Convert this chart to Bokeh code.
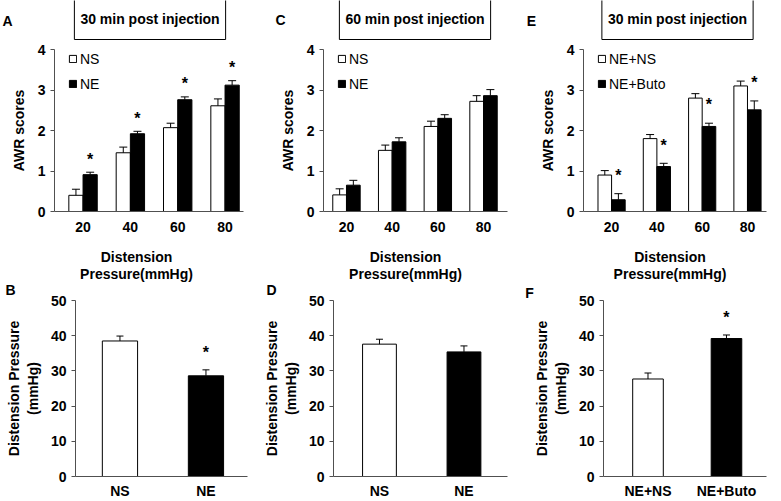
from bokeh.plotting import figure
from bokeh.models import (ColumnDataSource, Label, Legend, LegendItem, Whisker,
                          TeeHead, FixedTicker, Range1d)
from bokeh.layouts import column, row
from bokeh.embed import file_html
from bokeh.resources import INLINE
from bokeh.core.properties import value

FONT = "Liberation Sans"

# ---------------- data ----------------
pressures = ["20", "40", "60", "80"]

# Panel A: 30 min post injection
a_ns = [0.40, 1.45, 2.07, 2.61]
a_ns_sem = [0.15, 0.14, 0.11, 0.17]
a_ne = [0.91, 1.92, 2.76, 3.12]
a_ne_sem = [0.06, 0.06, 0.07, 0.11]
a_sig = [True, True, True, True]

# Panel C: 60 min post injection
c_ns = [0.41, 1.51, 2.10, 2.72]
c_ns_sem = [0.15, 0.13, 0.13, 0.14]
c_ne = [0.65, 1.72, 2.30, 2.86]
c_ne_sem = [0.12, 0.10, 0.09, 0.15]
c_sig = [False, False, False, False]

# Panel E: 30 min post injection
e_nens = [0.90, 1.80, 2.80, 3.10]
e_nens_sem = [0.11, 0.10, 0.11, 0.12]
e_buto = [0.29, 1.11, 2.10, 2.51]
e_buto_sem = [0.15, 0.08, 0.08, 0.22]
e_sig = [True, True, True, True]

# Panels B, D, F: distension pressure threshold
bd_groups = ["NS", "NE"]
b_vals = [38.5, 28.6]
b_sem = [1.4, 1.7]
b_sig = [False, True]
d_vals = [37.6, 35.4]
d_sem = [1.4, 1.7]
d_sig = [False, False]
f_groups = ["NE+NS", "NE+Buto"]
f_vals = [27.7, 39.2]
f_sem = [1.7, 1.0]
f_sig = [False, True]

bar_fills = ["white", "black"]

TOP_H = 282
BOT_H = 218


def panel_figure(W, H, box, xd, yd):
    """Figure whose frame fills the canvas; axes sit at fixed data locations."""
    l, r, t, b = box
    kx = (xd[1] - xd[0]) / (r - l)
    ky = (yd[1] - yd[0]) / (b - t)
    p = figure(width=W, height=H,
               x_range=Range1d(xd[0] - l * kx, xd[1] + (W - r) * kx),
               y_range=Range1d(yd[0] - (H - b) * ky, yd[1] + t * ky),
               output_backend="svg", toolbar_location=None,
               min_border=0, min_border_left=0, min_border_right=0,
               min_border_top=0, min_border_bottom=0)
    p.outline_line_color = None
    p.xgrid.visible = False
    p.ygrid.visible = False
    p.background_fill_color = "white"
    p.border_fill_color = "white"
    p.xaxis.fixed_location = yd[0]
    p.xaxis.bounds = xd
    p.yaxis.fixed_location = xd[0]
    p.yaxis.bounds = yd
    return p


def style(p, xlabels, x_ticks, y_ticks, x_standoff):
    for ax in (p.xaxis[0], p.yaxis[0]):
        ax.axis_line_color = "#505050"
        ax.axis_line_width = 1
        ax.major_label_text_font = FONT
        ax.major_label_text_font_style = "bold"
        ax.major_label_text_font_size = "14px"
        ax.major_label_text_color = "black"
        ax.minor_tick_line_color = None
        ax.axis_label_text_font = FONT
        ax.axis_label_text_font_style = "bold"
        ax.axis_label_text_font_size = "14px"
        ax.axis_label_text_color = "black"
    p.xaxis.ticker = FixedTicker(ticks=x_ticks)
    p.xaxis.major_label_overrides = {t: l for t, l in zip(x_ticks, xlabels)}
    p.xaxis.major_tick_line_color = None
    p.xaxis.major_tick_in = 0
    p.xaxis.major_tick_out = 0
    p.xaxis.major_label_standoff = x_standoff
    p.yaxis.ticker = FixedTicker(ticks=y_ticks)
    p.yaxis.major_tick_in = 0
    p.yaxis.major_tick_out = 4
    p.yaxis.major_tick_line_color = "#505050"
    p.yaxis.major_label_standoff = 5


def add_text(p, H, x, y_top, text, **kw):
    """Text placed in pixels from the figure's top-left corner."""
    p.add_layout(Label(x=x, y=H - y_top, x_units="screen", y_units="screen",
                       text=text, text_font=FONT, text_font_size="14px",
                       text_font_style="bold", text_color="black",
                       text_align="center", text_baseline="middle", **kw))


def top_panel(W, box, xd, white, white_sem, black, black_sem, sig, star_off,
              names, letter, letter_xy, title_text, title_x, xtitle_x):
    p = panel_figure(W, TOP_H, box, xd, (0, 4))
    idx = [i + 1 for i in range(len(pressures))]
    off = 0.15
    renderers = []
    for vals, sems, fill, sign in ((white, white_sem, bar_fills[0], -1),
                                   (black, black_sem, bar_fills[1], 1)):
        xs = [i + sign * off for i in idx]
        src = ColumnDataSource(dict(x=xs, top=vals,
                                    upper=[v + s for v, s in zip(vals, sems)]))
        r = p.vbar(x="x", top="top", bottom=0, width=0.30, source=src,
                   fill_color=fill, line_color="black", line_width=1)
        renderers.append(r)
        p.add_layout(Whisker(base="x", lower="top", upper="upper", source=src,
                             dimension="height", line_color="black", line_width=1,
                             upper_head=TeeHead(size=8, line_color="black", line_width=1),
                             lower_head=None, level="glyph"))
    sx = [idx[i] + off for i, s in enumerate(sig) if s]
    sy = [black[i] + black_sem[i] + star_off for i, s in enumerate(sig) if s]
    if sx:
        p.text(x=sx, y=sy, text=["*"] * len(sx), text_font=value(FONT),
               text_font_style="bold", text_font_size="16px",
               text_align="center", text_baseline="middle", text_color="black")
    style(p, pressures, idx, [0, 1, 2, 3, 4], 10)
    p.yaxis.axis_label = "AWR scores"
    p.yaxis.axis_label_standoff = 8
    legend = Legend(items=[LegendItem(label=names[0], renderers=[renderers[0]]),
                           LegendItem(label=names[1], renderers=[renderers[1]])],
                    location=(box[0] + 14, TOP_H - 92), glyph_width=9, glyph_height=9,
                    label_height=17, label_standoff=3, spacing=8, padding=0,
                    margin=0, border_line_color=None, background_fill_alpha=0,
                    label_text_font=FONT, label_text_font_size="14px",
                    label_text_color="black")
    p.add_layout(legend)
    add_text(p, TOP_H, letter_xy[0], letter_xy[1], letter)
    add_text(p, TOP_H, title_x, 18, title_text, border_line_color="black",
             border_line_width=1, background_fill_color="white", padding=(6, 13))
    add_text(p, TOP_H, xtitle_x, 256, "Distension")
    add_text(p, TOP_H, xtitle_x, 273, "Pressure(mmHg)")
    return p


def bottom_panel(W, box, xd, groups, vals, sems, sig, bar_w, letter, letter_xy):
    p = panel_figure(W, BOT_H, box, xd, (0, 50))
    idx = [i + 1 for i in range(len(groups))]
    src = ColumnDataSource(dict(x=idx, top=vals, fill=bar_fills,
                                upper=[v + s for v, s in zip(vals, sems)]))
    p.vbar(x="x", top="top", bottom=0, width=bar_w, source=src,
           fill_color="fill", line_color="black", line_width=1)
    p.add_layout(Whisker(base="x", lower="top", upper="upper", source=src,
                         dimension="height", line_color="black", line_width=1,
                         upper_head=TeeHead(size=7, line_color="black", line_width=1),
                         lower_head=None, level="glyph"))
    sx = [idx[i] for i, s in enumerate(sig) if s]
    sy = [vals[i] + sems[i] + 5 for i, s in enumerate(sig) if s]
    if sx:
        p.text(x=sx, y=sy, text=["*"] * len(sx), text_font=value(FONT),
               text_font_style="bold", text_font_size="16px",
               text_align="center", text_baseline="middle", text_color="black")
    style(p, groups, idx, [0, 10, 20, 30, 40, 50], 6)
    p.yaxis.axis_label = "Distension Pressure\n(mmHg)"
    p.yaxis.axis_label_standoff = 7
    add_text(p, BOT_H, letter_xy[0], letter_xy[1], letter)
    return p


# column 1: x 0-262, column 2: 262-520, column 3: 520-780
pA = top_panel(262, (54, 243, 49, 211), (0.397, 4.39), a_ns, a_ns_sem, a_ne, a_ne_sem,
               a_sig, 0.32, ["NS", "NE"], "A", (7, 20), "30 min post injection", 149.5, 136)
pC = top_panel(258, (61, 245, 49, 211), (0.497, 4.525), c_ns, c_ns_sem, c_ne, c_ne_sem,
               c_sig, 0.32, ["NS", "NE"], "C", (18, 19), "60 min post injection", 152.5, 143)
pE = top_panel(260, (63, 246, 49, 211), (0.38, 4.42), e_nens, e_nens_sem, e_buto, e_buto_sem,
               e_sig, 0.45, ["NE+NS", "NE+Buto"], "E", (11, 20), "30 min post injection", 157, 149.5)

pB = bottom_panel(262, (75, 247, 18, 194), (0.483, 2.483), bd_groups, b_vals, b_sem, b_sig,
                  0.41, "B", (10, 7))
pD = bottom_panel(258, (71, 245, 18, 194), (0.456, 2.515), bd_groups, d_vals, d_sem, d_sig,
                  0.40, "D", (9, 7))
pF = bottom_panel(260, (83, 246, 18, 194), (0.433, 2.51), f_groups, f_vals, f_sem, f_sig,
                  0.39, "F", (9, 10))

layout = column(row(pA, pC, pE, spacing=0), row(pB, pD, pF, spacing=0), spacing=0)

with open("out.html", "w") as fh:
    fh.write(file_html(layout, INLINE))
